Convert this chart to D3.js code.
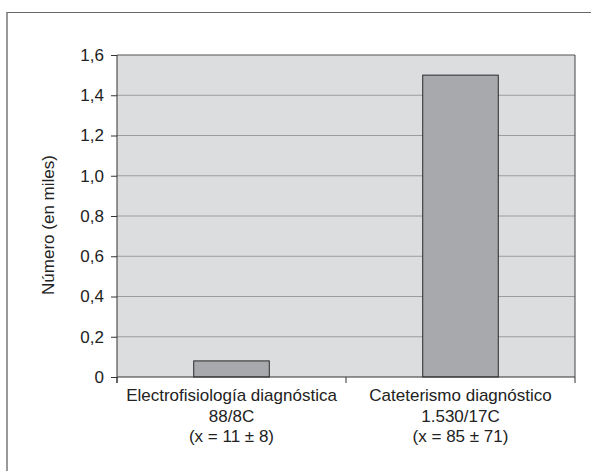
<!DOCTYPE html>
<html><head><meta charset="utf-8">
<script src="https://cdn.jsdelivr.net/npm/d3@7"></script>
<style>body{margin:0;background:#fff}svg{display:block}text{font-family:"Liberation Sans",Arial,sans-serif;fill:#222}</style>
</head><body>
<script>
const categories = ["Electrofisiología diagnóstica", "Cateterismo diagnóstico"];
const subLabels1 = ["88/8C", "1.530/17C"];
const subLabels2 = ["(x = 11 ± 8)", "(x = 85 ± 71)"];
const values = [0.08, 1.5];
const yTicks = [0, 0.2, 0.4, 0.6, 0.8, 1.0, 1.2, 1.4, 1.6];
const yTickLabels = ["0", "0,2", "0,4", "0,6", "0,8", "1,0", "1,2", "1,4", "1,6"];
const yTitle = "Número (en miles)";

const W = 591, H = 471;
const m = {left:117, right:16, top:55, bottom:94};
const svg = d3.select("body").append("svg").attr("width", W).attr("height", H);

// outer frame (top & left visible)
svg.append("line").attr("x1",7).attr("x2",W).attr("y1",12.5).attr("y2",12.5).attr("stroke","#666").attr("stroke-width",1.2);
svg.append("line").attr("x1",7).attr("x2",7).attr("y1",12).attr("y2",H).attr("stroke","#777").attr("stroke-width",1.5);

const pw = W - m.left - m.right, ph = H - m.top - m.bottom;
const g = svg.append("g").attr("transform",`translate(${m.left},${m.top})`);
const x = d3.scaleBand().domain(categories).range([0,pw]).paddingInner(0).paddingOuter(0);
const y = d3.scaleLinear().domain([0,1.6]).range([ph,0]);

g.append("rect").attr("width",pw).attr("height",ph).attr("fill","#dcdddf");
g.selectAll(".grid").data(yTicks.slice(1,-1)).join("line")
  .attr("x1",0).attr("x2",pw).attr("y1",d=>y(d)).attr("y2",d=>y(d))
  .attr("stroke","#9c9c9c").attr("stroke-width",1);
// plot border top and right
g.append("line").attr("x1",0).attr("x2",pw).attr("y1",0).attr("y2",0).attr("stroke","#555").attr("stroke-width",1.2);
g.append("line").attr("x1",pw).attr("x2",pw).attr("y1",0).attr("y2",ph).attr("stroke","#444").attr("stroke-width",1);

const bw = x.bandwidth()*0.33;
g.selectAll(".bar").data(values).join("rect")
  .attr("x",(d,i)=>x(categories[i])+x.bandwidth()/2-bw/2)
  .attr("y",d=>y(d)).attr("width",bw).attr("height",d=>ph-y(d))
  .attr("fill","#a8a9ac").attr("stroke","#2a2a2a").attr("stroke-width",1);

// y axis
const ya = d3.axisLeft(y).tickValues(yTicks).tickFormat((d,i)=>yTickLabels[i]).tickSize(6).tickPadding(7);
const yg = g.append("g").call(ya);
yg.attr("font-size",null).attr("font-family",null);
yg.select(".domain").attr("stroke","#333").attr("d",`M0,${ph+6}V0`);
yg.selectAll(".tick line").attr("stroke","#333");
yg.selectAll("text").style("font-size","17px").attr("fill","#222");

// x axis
const xg = g.append("g").attr("transform",`translate(0,${ph})`);
xg.append("line").attr("x1",0).attr("x2",pw).attr("stroke","#333").attr("stroke-width",1.2);
const bounds = [0, pw/2, pw];
xg.selectAll(".xt").data(bounds).join("line").attr("x1",d=>d).attr("x2",d=>d).attr("y1",0).attr("y2",6).attr("stroke","#333");
const lab = xg.selectAll(".xl").data(categories).join("text")
  .attr("text-anchor","middle").attr("x",d=>x(d)+x.bandwidth()/2).style("font-size","17px");
lab.append("tspan").attr("x",d=>x(d)+x.bandwidth()/2).attr("y",24).text(d=>d);
lab.append("tspan").attr("x",d=>x(d)+x.bandwidth()/2).attr("y",45).text((d,i)=>subLabels1[i]);
lab.append("tspan").attr("x",d=>x(d)+x.bandwidth()/2).attr("y",65).text((d,i)=>subLabels2[i]);

svg.append("text").attr("transform",`translate(54,225) rotate(-90)`).attr("text-anchor","middle")
  .style("font-size","17px").text(yTitle);
</script>
</body></html>
